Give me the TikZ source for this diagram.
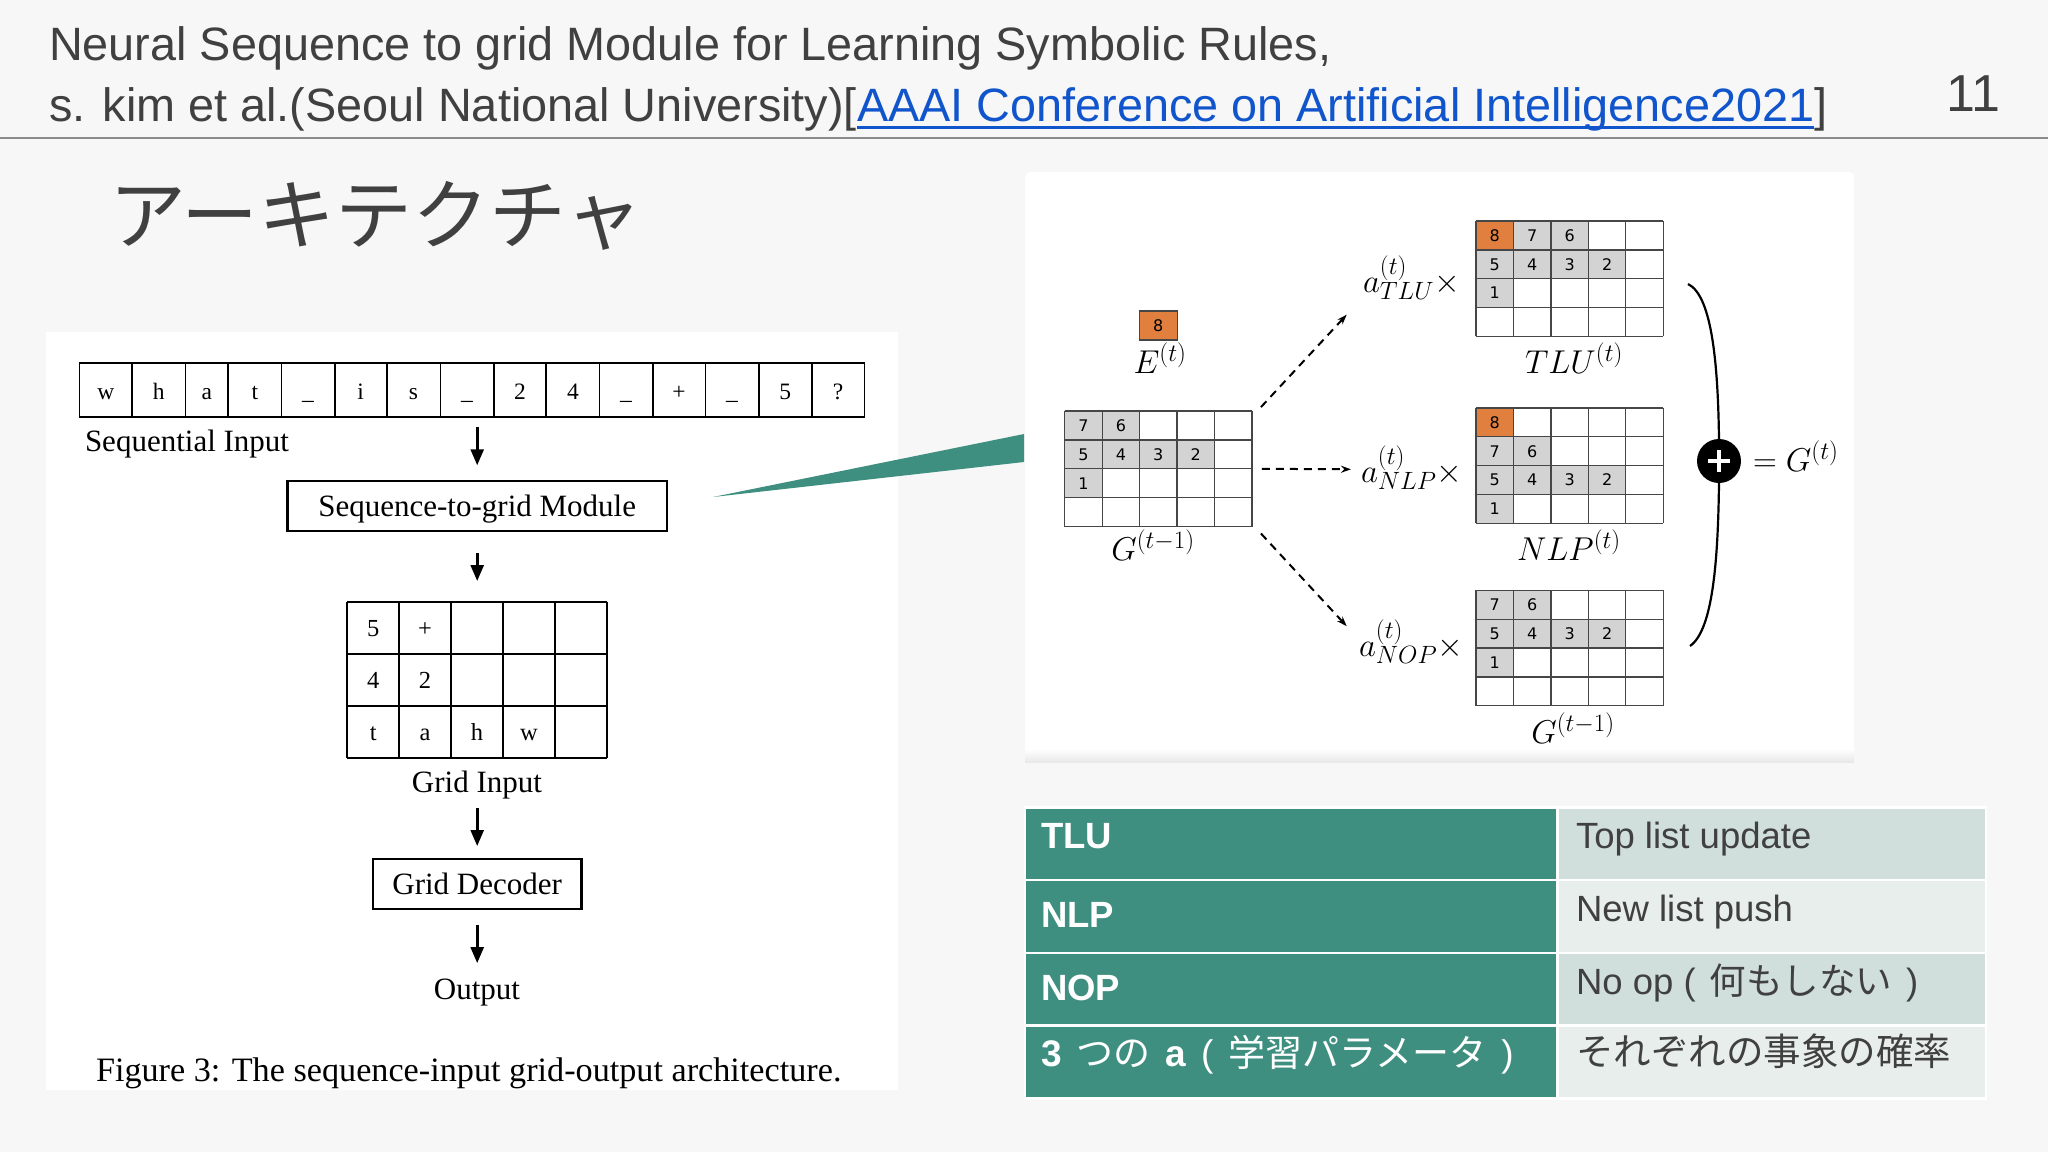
\RequirePackage{fix-cm}
\documentclass[tikz,border=0pt]{standalone}
\usepackage{fontspec}
\setmainfont{Liberation Serif}
\newfontfamily\arialf{Liberation Sans}
\newfontfamily\digf{DejaVu Sans}
\newfontfamily\cjk{Noto Sans CJK JP}
\usetikzlibrary{arrows.meta,calc}
\DeclareMathSizes{33}{33}{25}{18}
\definecolor{bgc}{RGB}{247,247,247}
\definecolor{txtc}{RGB}{64,64,64}
\definecolor{linkc}{RGB}{17,85,204}
\definecolor{rulec}{RGB}{140,140,140}
\definecolor{tealc}{RGB}{63,143,129}
\definecolor{rowA}{RGB}{208,223,219}
\definecolor{rowB}{RGB}{232,238,236}
\definecolor{orng}{RGB}{225,128,62}
\definecolor{cellg}{RGB}{211,211,211}
\definecolor{gridc}{RGB}{70,70,70}
\newcommand\fsz[1]{\fontsize{#1}{#1}\selectfont}
\newcommand\rcw{37.45}
\newcommand\rrh{28.85}
\newcommand\rgrid[4]{%
  \foreach \cc/\rr/\fc/\dd in {#4} {
    \fill[\fc] ({#2+\cc*\rcw},{#3+\rr*\rrh}) rectangle ++(\rcw,\rrh);
    \node[digit] (#1-\cc-\rr) at ({#2+(\cc+0.5)*\rcw},{#3+(\rr+0.5)*\rrh}) {\dd};
  }
  \foreach \i in {0,...,5} \draw[gline] ({#2+\i*\rcw},#3) -- ++(0,{4*\rrh});
  \foreach \j in {0,...,4} \draw[gline] (#2,{#3+\j*\rrh}) -- ++({5*\rcw},0);
  \node[minimum width={5*\rcw}, minimum height={4*\rrh}, anchor=north west] (#1) at (#2,#3) {};
}
\begin{document}
\begin{tikzpicture}[x=1pt,y=-1pt,
 every node/.style={inner sep=0pt,outer sep=0pt},
 ttl/.style={text=txtc,font=\arialf\fsz{46.8}},
 figtxt/.style={font=\fsz{31}},
 seqtxt/.style={font=\fsz{23.5}},
 seqcell/.style={draw=black,line width=1.8pt},
 figbox/.style={draw=black,line width=2.2pt,fill=white},
 figarrow/.style={line width=2.6pt,-{Triangle[length=16pt,width=13pt]}},
 gline/.style={draw=gridc,line width=1.3pt},
 fline/.style={draw=black,line width=1.8pt},
 digit/.style={font=\digf\fsz{16}},
 mathlbl/.style={font=\fsz{33}},
 dasharrow/.style={line width=2pt,dash pattern=on 8pt off 6pt,-{Stealth[length=10pt,width=7pt]}},
 tcell/.style={draw=white,line width=2.5pt,anchor=north west,minimum height=72.75},
 tleft/.style={text=white,font=\arialf\bfseries\fsz{36.5}},
 tright/.style={text=txtc,font=\arialf\fsz{36.5}},
]
\useasboundingbox (0,0) rectangle (2048,1152);
\fill[bgc] (0,0) rectangle (2048,1152);

% header
\node[ttl,anchor=base west] (t1) at (49,60) {Neural Sequence to grid Module for Learning Symbolic Rules,};
\node[ttl,anchor=base west] (t2a) at (49,121.7) {s. kim et al.(Seoul National University)[};
\node[ttl,text=linkc,anchor=base west] (lnk) at (t2a.base east) {AAAI Conference on Artificial Intelligence2021};
\node[ttl,anchor=base west] (t2c) at (lnk.base east) {]};
\draw[linkc,line width=3pt] ($(lnk.base west)+(0,5.5)$) -- ($(lnk.base east)+(0,5.5)$);
\node[text=txtc,font=\arialf\fsz{52},anchor=base] (pnum) at (1973,111.7) {11};
\draw[rulec,line width=2.5pt] (0,138) -- (2048,138);
\node[text=txtc,font=\cjk\fsz{77},anchor=base west] (jt) at (109,243) {アーキテクチャ};

% left figure panel
\fill[white] (46,332) rectangle (898,1090);
\foreach \xa/\xb/\ch [count=\i] in {79.5/132.2/w, 132.2/185.4/h, 185.4/228.2/a, 228.2/281.4/t, 281.4/334.6/\_, 334.6/386.7/i, 386.7/440.4/s, 440.4/493.6/\_, 493.6/546.3/2, 546.3/599.5/4, 599.5/652.7/\_, 652.7/705.4/+, 705.4/758.6/\_, 758.6/811.8/5, 811.8/864.5/?} {
  \node[seqcell,minimum width={\xb-\xa},minimum height=54,anchor=north west] (sc\i) at (\xa,363) {};
  \node[seqtxt,anchor=base] (st\i) at ({(\xa+\xb)/2},399.5) {\ch};
}
\node[minimum width=785,minimum height=54,anchor=north west] (seqrow) at (79.5,363) {};
\node[figtxt,anchor=base west] (seqlbl) at (85,451.7) {Sequential Input};
\node[figbox,minimum width=379.6,minimum height=50.3] (s2g) at (477.2,505.9) {};
\node[figtxt,anchor=base] (s2gt) at (477.2,516) {Sequence-to-grid Module};
% grid input
\foreach \i in {0,...,5} \draw[fline] ({347.2+\i*51.9},601.7) -- ++(0,156);
\foreach \j in {0,...,3} \draw[fline] (347.2,{601.7+\j*52}) -- ++(259.5,0);
\node[minimum width=259.5,minimum height=156,anchor=north west] (gin) at (347.2,601.7) {};
\foreach \cc/\rr/\ch in {0/0/5, 1/0/+, 0/1/4, 1/1/2, 0/2/t, 1/2/a, 2/2/h, 3/2/w} {
  \node[font=\fsz{24.5},anchor=base] (gi-\cc-\rr) at ({347.2+(\cc+0.5)*51.9},{601.7+\rr*52+34.5}) {\ch};
}
\node[figtxt,anchor=base] (ginlbl) at (477,792.4) {Grid Input};
\node[figbox,minimum width=208.4,minimum height=50] (gdec) at (477.2,884) {};
\node[figtxt,anchor=base] (gdect) at (477.2,894) {Grid Decoder};
\node[figtxt,anchor=base] (outlbl) at (477,999) {Output};
\node[font=\fsz{34.2},anchor=base west] (cap) at (96,1081.7) {Figure 3: The sequence-input grid-output architecture.};
\draw[figarrow,shorten <=10pt,shorten >=15.5pt] (s2g.north |- seqrow.south) -- (s2g.north);
\draw[figarrow,shorten <=22pt,shorten >=20.7pt] (s2g.south) -- (gin.north -| s2g.south);
\draw[figarrow,shorten <=50.3pt,shorten >=13pt] (gin.south -| gdec.north) -- (gdec.north);
\draw[figarrow,shorten <=16pt,shorten >=15.4pt] (gdec.south) -- (outlbl.north -| gdec.south);

% teal wedge
\fill[tealc] (713,497) -- (1024,434) -- (1024,462) -- cycle;

% right figure panel
\fill[white,rounded corners=5pt] (1025,172) rectangle (1854,762);
\shade[top color=white,bottom color=black!9] (1025,749) rectangle (1854,762);

\node[draw=gridc,line width=1.3pt,fill=orng,minimum width=38,minimum height=29,font=\digf\fsz{16}] (ebox) at (1158.3,325.4) {8};
\node[mathlbl,anchor=base] (elbl) at (1160,373) {$E^{(t)}$};

\rgrid{gl}{1064.7}{411.1}{0/0/cellg/7, 1/0/cellg/6, 0/1/cellg/5, 1/1/cellg/4, 2/1/cellg/3, 3/1/cellg/2, 0/2/cellg/1}
\rgrid{tlu}{1476}{221}{0/0/orng/8, 1/0/cellg/7, 2/0/cellg/6, 0/1/cellg/5, 1/1/cellg/4, 2/1/cellg/3, 3/1/cellg/2, 0/2/cellg/1}
\rgrid{nlp}{1476}{407.9}{0/0/orng/8, 0/1/cellg/7, 1/1/cellg/6, 0/2/cellg/5, 1/2/cellg/4, 2/2/cellg/3, 3/2/cellg/2, 0/3/cellg/1}
\rgrid{gr}{1476}{590.4}{0/0/cellg/7, 1/0/cellg/6, 0/1/cellg/5, 1/1/cellg/4, 2/1/cellg/3, 3/1/cellg/2, 0/2/cellg/1}

\node[mathlbl,anchor=base] (gllbl) at (1153,560) {$G^{(t-1)}$};
\node[mathlbl,anchor=base] (tlulbl) at (1574,373) {$TLU^{(t)}$};
\node[mathlbl,anchor=base] (nlplbl) at (1569,560.5) {$NLP^{(t)}$};
\node[mathlbl,anchor=base] (grlbl) at (1573,743) {$G^{(t-1)}$};
\node[mathlbl,anchor=base west] (aT) at (1363,292.5) {$a^{(t)}_{TLU}{\times}$};
\node[mathlbl,anchor=base west] (aN) at (1361,482) {$a^{(t)}_{NLP}{\times}$};
\node[mathlbl,anchor=base west] (aO) at (1359,656) {$a^{(t)}_{NOP}{\times}$};
\coordinate (aTin) at (1346.7,314.7);
\coordinate (aNin) at (1351,469.3);
\coordinate (aOin) at (1346.7,626.2);
\draw[dasharrow] ($(gl.north east)+(9,-4)$) -- (aTin);
\draw[dasharrow] ($(gl.east)+(10,0)$) -- (aNin);
\draw[dasharrow] ($(gl.south east)+(9,7)$) -- (aOin);

\coordinate (brtop) at (1688,284);
\coordinate (brbot) at (1690,646);
\node[circle,fill=black,minimum size=44] (plus) at (1719,461) {};
\draw[line width=2.2pt] (brtop) .. controls (1713,296) and (1718,370) .. (plus.north);
\draw[line width=2.2pt] (plus.south) .. controls (1718,560) and (1713,630) .. (brbot);
\draw[white,line width=4.5pt] ($(plus.center)+(-11,0)$) -- ($(plus.center)+(11,0)$);
\draw[white,line width=4.5pt] ($(plus.center)+(0,-11)$) -- ($(plus.center)+(0,11)$);
\node[mathlbl,anchor=base west] (gt) at (1753,471.5) {$=G^{(t)}$};

% table
\node[tcell,fill=tealc,minimum width=532.6] (L1) at (1025,807.3) {};
\node[tcell,fill=tealc,minimum width=532.6] (L2) at (1025,880.05) {};
\node[tcell,fill=tealc,minimum width=532.6] (L3) at (1025,952.8) {};
\node[tcell,fill=tealc,minimum width=532.6] (L4) at (1025,1025.55) {};
\node[tcell,fill=rowA,minimum width=428.4] (R1) at (1557.6,807.3) {};
\node[tcell,fill=rowB,minimum width=428.4] (R2) at (1557.6,880.05) {};
\node[tcell,fill=rowA,minimum width=428.4] (R3) at (1557.6,952.8) {};
\node[tcell,fill=rowB,minimum width=428.4] (R4) at (1557.6,1025.55) {};
\node[tleft,anchor=base west] (L1t) at (1041,848) {TLU};
\node[tleft,anchor=base west] (L2t) at (1041,927) {NLP};
\node[tleft,anchor=base west] (L3t) at (1041,1000.5) {NOP};
\node[text=white,anchor=base west,font=\fsz{37}] (L4t) at (1041,1066.5) {{\arialf\bfseries 3}\hspace{15pt}{\cjk つの}\hspace{15pt}{\arialf\bfseries a}\hspace{15pt}{\arialf (}\hspace{15pt}{\cjk 学習パラメータ}\hspace{15pt}{\arialf )}};
\node[tright,anchor=base west] (R1t) at (1576,848) {Top list update};
\node[tright,anchor=base west] (R2t) at (1576,921.7) {New list push};
\node[tright,anchor=base west] (R3t) at (1576,994) {No op (\hspace{14pt}{\cjk 何もしない}\hspace{14pt})};
\node[text=txtc,anchor=base west,font=\cjk\fsz{37.5}] (R4t) at (1576,1065) {それぞれの事象の確率};
\end{tikzpicture}
\end{document}
